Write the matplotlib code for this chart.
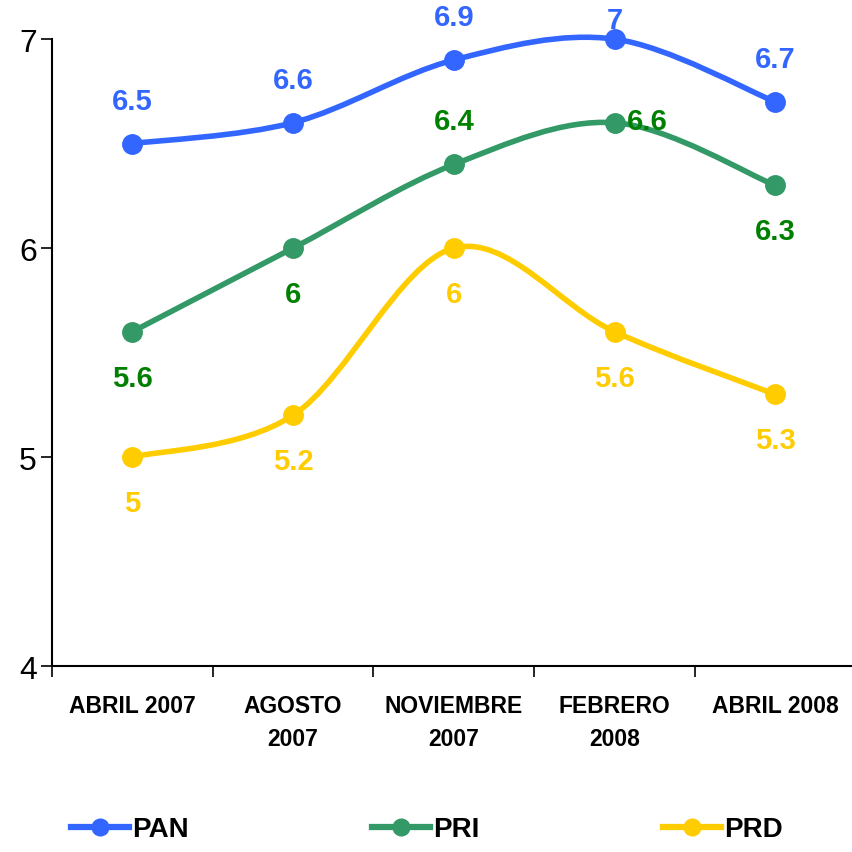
import numpy as np
import matplotlib.pyplot as plt
from matplotlib.path import Path
from matplotlib.patches import PathPatch
from matplotlib.lines import Line2D

periods = ['ABRIL 2007', 'AGOSTO\n2007', 'NOVIEMBRE\n2007', 'FEBRERO\n2008', 'ABRIL 2008']
pan = [6.5, 6.6, 6.9, 7.0, 6.7]
pri = [5.6, 6.0, 6.4, 6.6, 6.3]
prd = [5.0, 5.2, 6.0, 5.6, 5.3]

names = ['PAN', 'PRI', 'PRD']
line_colors = ['#3366FF', '#339966', '#FFCC00']
label_colors = ['#3366FF', '#008000', '#FFCC00']
# where each value label sits relative to its point
label_pos = [
    ['up', 'up', 'up', 'top', 'up'],
    ['down', 'down', 'up', 'right', 'down'],
    ['down', 'down', 'down', 'down', 'down'],
]

plt.rcParams['font.family'] = ['Liberation Sans', 'DejaVu Sans']


def smooth_path(x, y, t=1/6):
    # cubic bezier through the points, Excel-like smoothing
    n = len(x)
    verts = [(x[0], y[0])]
    codes = [Path.MOVETO]
    for i in range(n - 1):
        x0, y0 = (x[i - 1], y[i - 1]) if i > 0 else (x[i], y[i])
        x3, y3 = (x[i + 2], y[i + 2]) if i + 2 < n else (x[i + 1], y[i + 1])
        c1 = (x[i] + (x[i + 1] - x0) * t, y[i] + (y[i + 1] - y0) * t)
        c2 = (x[i + 1] - (x3 - x[i]) * t, y[i + 1] - (y3 - y[i]) * t)
        verts += [c1, c2, (x[i + 1], y[i + 1])]
        codes += [Path.CURVE4] * 3
    return Path(verts, codes)


fig = plt.figure(figsize=(8.53, 8.53), dpi=100)
ax = fig.add_axes([0.061, 0.218, 0.942, 0.735])

offsets = {'up': (0, 31), 'down': (0, -33), 'right': (9, 1), 'top': (0, 14)}
xs = np.arange(len(periods))
for vals, name, lc, tc, pos in zip([pan, pri, prd], names, line_colors, label_colors, label_pos):
    ax.add_patch(PathPatch(smooth_path(xs, vals), facecolor='none', edgecolor=lc,
                           lw=4, capstyle='round', joinstyle='round', zorder=3,
                           clip_on=False))
    ax.plot(xs, vals, 'o', color=lc, ms=14, zorder=4, clip_on=False)
    for xi, v, p in zip(xs, vals, pos):
        ha = 'left' if p == 'right' else 'center'
        ax.annotate(f'{v:g}', (xi, v), xytext=offsets[p], textcoords='offset points',
                    ha=ha, va='center', fontsize=21, fontweight='bold', color=tc,
                    zorder=5, annotation_clip=False)

ax.set_xlim(-0.5, 4.5)
ax.set_ylim(4, 7)
ax.set_yticks([4, 5, 6, 7])
ax.set_xticks(np.arange(-0.5, 5, 1))
ax.set_xticklabels([])
ax.set_xticks(xs, minor=True)
ax.set_xticklabels(periods, minor=True, fontsize=16.5, fontweight='bold',
                   linespacing=1.55)
ax.tick_params(axis='x', which='minor', length=0, pad=20)
ax.tick_params(axis='x', which='major', length=8, width=1.2, direction='out')
ax.tick_params(axis='y', length=8, width=1.2, labelsize=23, pad=3)
for s in ['top', 'right']:
    ax.spines[s].set_visible(False)
ax.spines['left'].set_linewidth(1.5)
ax.spines['bottom'].set_linewidth(1.5)

handles = [Line2D([], [], color=c, lw=4.5, marker='o', ms=12) for c in line_colors]
leg = fig.legend(handles, names, loc='lower center', bbox_to_anchor=(0.5, -0.018), ncol=3,
                 frameon=False, handlelength=2.1, handletextpad=0.1, columnspacing=6.6,
                 prop={'weight': 'bold', 'size': 20})

fig.savefig('out.png', dpi=100)
